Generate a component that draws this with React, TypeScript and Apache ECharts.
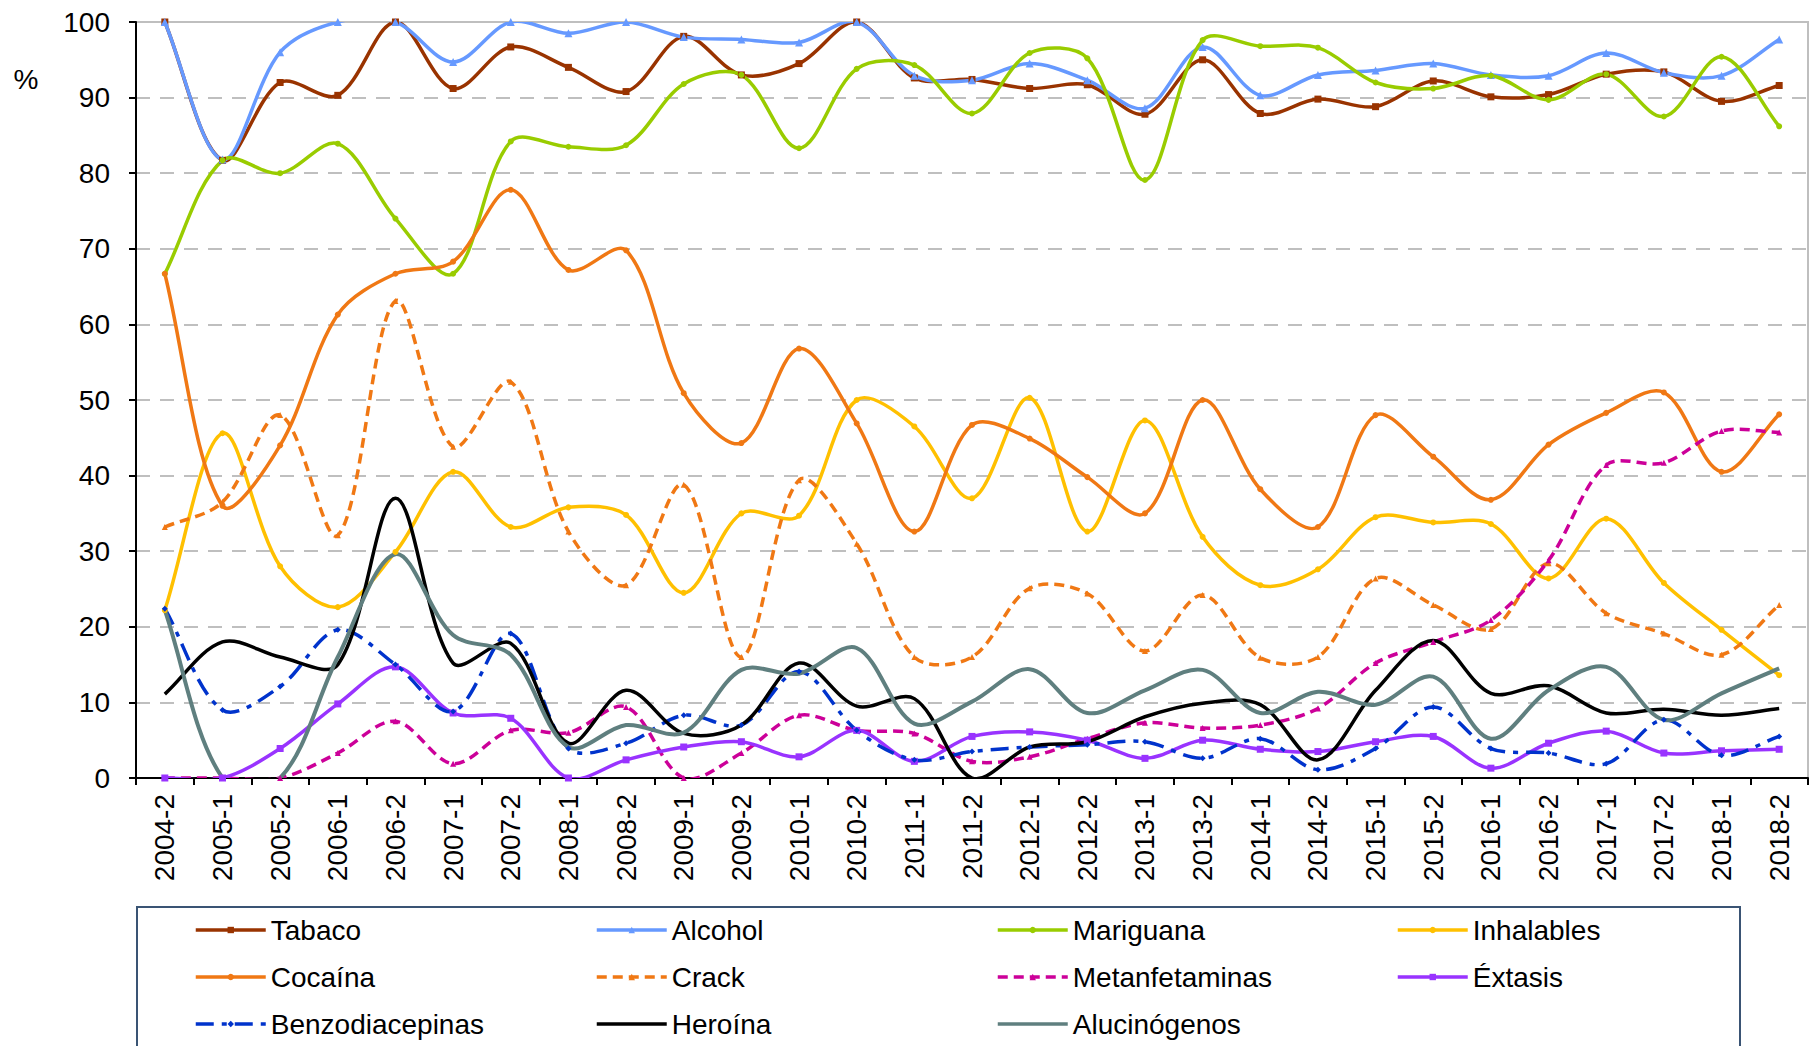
import React, { useEffect, useRef } from 'react';
import * as echarts from 'echarts';

const categories = ['2004-2', '2005-1', '2005-2', '2006-1', '2006-2', '2007-1', '2007-2', '2008-1', '2008-2', '2009-1', '2009-2', '2010-1', '2010-2', '2011-1', '2011-2', '2012-1', '2012-2', '2013-1', '2013-2', '2014-1', '2014-2', '2015-1', '2015-2', '2016-1', '2016-2', '2017-1', '2017-2', '2018-1', '2018-2'];

const tabaco = [100, 81.7, 92.0, 90.3, 100, 91.2, 96.7, 94.0, 90.8, 98.1, 93.0, 94.5, 100, 92.6, 92.4, 91.2, 91.7, 87.8, 95.0, 87.9, 89.8, 88.8, 92.2, 90.1, 90.4, 93.1, 93.4, 89.5, 91.6];
const alcohol = [100, 81.8, 96.0, 100, 100, 94.7, 100, 98.5, 100, 98.0, 97.7, 97.3, 100, 92.9, 92.3, 94.5, 92.3, 88.6, 96.7, 90.3, 93.0, 93.6, 94.5, 93.0, 92.9, 95.9, 93.3, 92.9, 97.7];
const mariguana = [66.7, 81.7, 80.0, 83.9, 74.0, 66.7, 84.2, 83.5, 83.7, 91.8, 93.0, 83.3, 93.8, 94.3, 87.9, 95.9, 95.2, 79.1, 97.6, 96.8, 96.6, 92.0, 91.2, 92.9, 89.7, 93.1, 87.5, 95.4, 86.2];
const inhalables = [22.2, 45.6, 28.0, 22.6, 29.9, 40.5, 33.2, 35.8, 34.8, 24.5, 35.0, 34.7, 50.0, 46.5, 37.0, 50.3, 32.6, 47.3, 31.9, 25.5, 27.6, 34.5, 33.8, 33.6, 26.4, 34.3, 25.8, 19.6, 13.6];
const cocaina = [66.7, 36.0, 44.0, 61.3, 66.7, 68.3, 77.8, 67.2, 69.8, 50.9, 44.3, 56.8, 46.9, 32.6, 46.7, 44.9, 39.8, 35.0, 50.0, 38.2, 33.2, 48.0, 42.5, 36.8, 44.1, 48.3, 51.0, 40.5, 48.1];
const crack = [33.2, 36.5, 48.0, 32.1, 63.1, 43.8, 52.4, 32.6, 25.5, 38.8, 16.0, 39.4, 31.0, 16.0, 16.0, 25.1, 24.4, 16.8, 24.2, 15.9, 16.0, 26.4, 22.9, 19.7, 28.4, 21.8, 19.1, 16.3, 22.9];
const metanfetaminas = [0, 0, 0, 3.3, 7.5, 1.9, 6.3, 6.0, 9.4, 0, 3.3, 8.3, 6.3, 5.9, 2.2, 2.8, 5.2, 7.3, 6.6, 7.0, 9.2, 15.2, 18.0, 20.9, 28.8, 41.4, 41.7, 45.9, 45.7];
const extasis = [0, 0, 3.9, 9.8, 14.7, 8.6, 7.9, 0, 2.4, 4.1, 4.8, 2.8, 6.3, 2.2, 5.5, 6.1, 5.0, 2.6, 5.0, 3.8, 3.5, 4.8, 5.5, 1.3, 4.6, 6.2, 3.3, 3.6, 3.8];
const benzodiacepinas = [22.4, 9.0, 12.1, 19.6, 15.0, 8.8, 19.1, 3.9, 4.6, 8.3, 7.0, 14.1, 6.3, 2.4, 3.5, 4.1, 4.4, 4.8, 2.6, 5.2, 1.1, 3.9, 9.4, 3.9, 3.3, 1.9, 7.7, 3.0, 5.5];
const heroina = [11.1, 18.0, 16.0, 15.0, 37.0, 15.2, 17.8, 4.6, 11.6, 5.9, 7.0, 15.2, 9.5, 10.5, 0, 4.1, 4.8, 8.1, 9.9, 9.7, 2.4, 11.6, 18.2, 11.2, 12.2, 8.6, 9.1, 8.3, 9.2];
const alucinogenos = [22.2, 0, 0, 16.0, 29.6, 18.9, 16.3, 4.1, 7.0, 6.0, 14.3, 13.8, 17.2, 7.2, 10.1, 14.4, 8.6, 11.6, 14.3, 8.6, 11.4, 9.7, 13.4, 5.2, 11.6, 14.7, 7.7, 11.2, 14.5];

const yTicks = { min: 0, max: 100, interval: 10 };

const FONT = "'Liberation Sans', Arial, Helvetica, sans-serif";

type Def = {
  name: string;
  values: number[];
  color: string;
  width: number;
  dash: number[] | null;
  symbol: string;
  symbolSize: number;
};

const defs: Def[] = [
  { name: 'Tabaco', values: tabaco, color: '#993300', width: 3.5, dash: null, symbol: 'rect', symbolSize: 7 },
  { name: 'Alcohol', values: alcohol, color: '#6699FF', width: 3.5, dash: null, symbol: 'triangle', symbolSize: 8 },
  { name: 'Mariguana', values: mariguana, color: '#99CC00', width: 3.5, dash: null, symbol: 'circle', symbolSize: 6 },
  { name: 'Inhalables', values: inhalables, color: '#FFC000', width: 3.5, dash: null, symbol: 'circle', symbolSize: 6 },
  { name: 'Cocaína', values: cocaina, color: '#F07814', width: 3.5, dash: null, symbol: 'circle', symbolSize: 6 },
  { name: 'Crack', values: crack, color: '#F07814', width: 3.5, dash: [10, 6], symbol: 'triangle', symbolSize: 6 },
  { name: 'Metanfetaminas', values: metanfetaminas, color: '#CC0099', width: 3.5, dash: [10, 6], symbol: 'triangle', symbolSize: 6 },
  { name: 'Éxtasis', values: extasis, color: '#9933FF', width: 3.5, dash: null, symbol: 'rect', symbolSize: 7 },
  { name: 'Benzodiacepinas', values: benzodiacepinas, color: '#0033CC', width: 3.5, dash: [18, 8, 5, 8], symbol: 'diamond', symbolSize: 6 },
  { name: 'Heroína', values: heroina, color: '#000000', width: 3.5, dash: null, symbol: 'none', symbolSize: 0 },
  { name: 'Alucinógenos', values: alucinogenos, color: '#5F7F7F', width: 4, dash: null, symbol: 'none', symbolSize: 0 },
];

const legendColumns = [
  ['Tabaco', 'Cocaína', 'Benzodiacepinas'],
  ['Alcohol', 'Crack', 'Heroína'],
  ['Mariguana', 'Metanfetaminas', 'Alucinógenos'],
  ['Inhalables', 'Éxtasis'],
];

function curveRenderer(def: Def) {
  return (params: any, api: any) => {
    if (params.dataIndex !== 0) return null;
    const pts: number[][] = def.values.map((v, i) => api.coord([i, v]));
    const n = pts.length;
    const dist = (a: number[], b: number[]) => Math.hypot(a[0] - b[0], a[1] - b[1]);
    let d = `M${pts[0][0]} ${pts[0][1]}`;
    const k = 1 / 3;
    for (let i = 0; i < n - 1; i++) {
      const p0 = pts[Math.max(0, i - 1)];
      const p1 = pts[i];
      const p2 = pts[i + 1];
      const p3 = pts[Math.min(n - 1, i + 2)];
      const d01 = dist(p0, p1);
      const d12 = dist(p1, p2);
      const d23 = dist(p2, p3);
      const f1 = d01 + d12 > 0 ? d12 / (d01 + d12) : 0;
      const f2 = d12 + d23 > 0 ? d12 / (d12 + d23) : 0;
      const c1x = p1[0] + (p2[0] - p0[0]) * k * f1;
      const c1y = p1[1] + (p2[1] - p0[1]) * k * f1;
      const c2x = p2[0] - (p3[0] - p1[0]) * k * f2;
      const c2y = p2[1] - (p3[1] - p1[1]) * k * f2;
      d += ` C${c1x} ${c1y} ${c2x} ${c2y} ${p2[0]} ${p2[1]}`;
    }
    return {
      type: 'path',
      shape: { pathData: d },
      style: {
        stroke: def.color,
        lineWidth: def.width,
        lineDash: def.dash || undefined,
        fill: 'none',
      },
    };
  };
}

export default function App() {
  const ref = useRef<HTMLDivElement>(null);

  useEffect(() => {
    if (!ref.current) return;
    const chart = echarts.init(ref.current, null, { renderer: 'svg' });

    const lineSeries = defs.map((def) => ({
      name: def.name,
      type: 'line',
      data: def.values,
      symbol: def.symbol,
      symbolSize: def.symbolSize,
      showSymbol: def.symbol !== 'none',
      showAllSymbol: true,
      smooth: false,
      color: def.color,
      itemStyle: { color: def.color },
      lineStyle: {
        color: def.color,
        width: def.width,
        type: def.dash || 'solid',
        opacity: 0,
      },
      emphasis: { disabled: true },
      silent: true,
      z: 4,
    }));

    const curveSeries = defs.map((def) => ({
      name: def.name + ' curve',
      type: 'custom',
      coordinateSystem: 'cartesian2d',
      data: def.values.map((v, i) => [i, v]),
      encode: { x: 0, y: 1 },
      renderItem: curveRenderer(def),
      clip: true,
      silent: true,
      z: 3,
    }));

    const noMarker = new Set(defs.filter((d) => d.symbol === 'none').map((d) => d.name));

    const option: any = {
      animation: false,
      backgroundColor: '#ffffff',
      textStyle: { fontFamily: FONT },
      grid: {
        left: 136,
        top: 22,
        right: 4,
        bottom: 268,
        containLabel: false,
        outerBoundsMode: 'none',
        show: true,
        borderColor: '#BFBFBF',
        borderWidth: 2,
        backgroundColor: 'transparent',
      },
      xAxis: {
        type: 'category',
        data: categories,
        boundaryGap: true,
        axisLine: { show: true, lineStyle: { color: '#000', width: 2 } },
        axisTick: { show: true, interval: 0, length: 7, inside: false, lineStyle: { color: '#000', width: 2 } },
        axisLabel: {
          interval: 0,
          rotate: 90,
          margin: 16,
          fontSize: 28,
          color: '#000',
          fontFamily: FONT,
          hideOverlap: false,
        },
        splitLine: { show: false },
      },
      yAxis: {
        type: 'value',
        min: yTicks.min,
        max: yTicks.max,
        interval: yTicks.interval,
        axisLine: { show: true, lineStyle: { color: '#000', width: 2 } },
        axisTick: { show: true, length: 7, inside: false, lineStyle: { color: '#000', width: 2 } },
        axisLabel: { margin: 26, fontSize: 28, color: '#000', fontFamily: FONT },
        splitLine: { show: true, lineStyle: { color: '#BFBFBF', width: 2, type: [14, 10] } },
      },
      legend: legendColumns.map((col, ci) => ({
        data: col.map((name) =>
          noMarker.has(name) ? { name, itemStyle: { opacity: 0 } } : { name }
        ),
        orient: 'vertical',
        left: [194, 595, 996, 1396][ci],
        top: 914,
        padding: 0,
        itemWidth: 70,
        itemHeight: 8,
        itemGap: 15,
        selectedMode: false,
        lineStyle: { width: 3.5, opacity: 1 },
        textStyle: { fontSize: 28, fontFamily: FONT, color: '#000', lineHeight: 32 },
      })),
      graphic: [
        {
          type: 'text',
          x: 26,
          y: 79,
          style: {
            text: '%',
            fontSize: 28,
            fontFamily: FONT,
            fill: '#000',
            textAlign: 'center',
            textVerticalAlign: 'middle',
          },
        },
        {
          type: 'rect',
          shape: { x: 137, y: 907, width: 1603, height: 220 },
          style: { fill: 'none', stroke: '#3A5474', lineWidth: 2 },
          z: -1,
        },
      ],
      series: [...curveSeries, ...lineSeries],
    };

    chart.setOption(option);
    return () => chart.dispose();
  }, []);

  return (
    <div
      ref={ref}
      style={{ position: 'absolute', left: 0, top: 0, width: 1812, height: 1046 }}
    />
  );
}
